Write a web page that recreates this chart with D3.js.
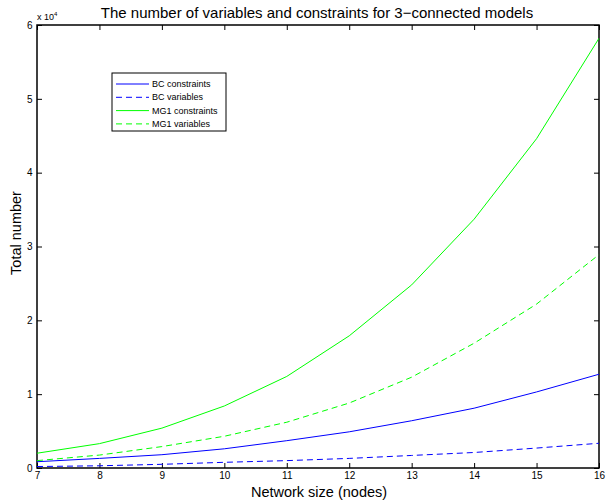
<html lang="en">
  <head>
    <meta charset="UTF-8" />
    <title>Variables and constraints for 3-connected models</title>
    <script src="https://d3js.org/d3.v7.min.js"></script>
  </head>
  <style>
    body { margin: 0; background: #fff; }
    svg { font-family: "Liberation Sans", Arial, sans-serif; }
    .tick text { font-size: 10px; }
  </style>
  <body>
    <svg id="chart" width="606" height="500"></svg>
    <script>
      // network sizes (nodes)
      var nodes = [7, 8, 9, 10, 11, 12, 13, 14, 15, 16];
      // totals
      var bcConstraints = [850, 1300, 1800, 2600, 3700, 4900, 6400, 8100, 10300, 12700];
      var bcVariables = [200, 300, 500, 770, 1000, 1300, 1700, 2100, 2700, 3350];
      var mg1Constraints = [2000, 3300, 5400, 8400, 12400, 17900, 24800, 33700, 44600, 58200];
      var mg1Variables = [1000, 1750, 2900, 4300, 6200, 8800, 12300, 16900, 22200, 28900];
      var seriesNames = ["BC constraints", "BC variables", "MG1 constraints", "MG1 variables"];
      var yTicks = [0, 1, 2, 3, 4, 5, 6];

      var series = [
        { name: seriesNames[0], values: bcConstraints, color: "#0000ff", dash: null },
        { name: seriesNames[1], values: bcVariables, color: "#0000ff", dash: "6,4" },
        { name: seriesNames[2], values: mg1Constraints, color: "#00ff00", dash: null },
        { name: seriesNames[3], values: mg1Variables, color: "#00ff00", dash: "6,4" }
      ];

      var margin = { left: 37, right: 7, top: 25, bottom: 32 };
      var width = 606 - margin.left - margin.right;
      var height = 500 - margin.top - margin.bottom;

      var svg = d3.select("#chart");
      var g = svg.append("g")
        .attr("transform", "translate(" + margin.left + "," + margin.top + ")");

      var x = d3.scaleLinear().domain([7, 16]).range([0, width]);
      var y = d3.scaleLinear().domain([0, 60000]).range([height, 0]);

      // axes: ticks point inward on all four sides
      g.append("g")
        .attr("transform", "translate(0," + height + ")")
        .call(d3.axisBottom(x).tickValues(nodes).tickSizeInner(-5).tickSizeOuter(0).tickPadding(4));
      g.append("g")
        .call(d3.axisTop(x).tickValues(nodes).tickSizeInner(-5).tickSizeOuter(0).tickFormat(""));
      g.append("g")
        .call(d3.axisLeft(y).tickValues(yTicks.map(function (d) { return d * 1e4; }))
          .tickSizeInner(-5).tickSizeOuter(0).tickPadding(4.5)
          .tickFormat(function (d) { return d / 1e4; }));
      g.append("g")
        .attr("transform", "translate(" + width + ",0)")
        .call(d3.axisRight(y).tickValues(yTicks.map(function (d) { return d * 1e4; }))
          .tickSizeInner(-5).tickSizeOuter(0).tickFormat(""));

      g.selectAll(".domain").remove();
      g.selectAll(".tick line").attr("stroke", "#000");
      g.selectAll(".tick text").attr("fill", "#000");

      g.append("rect")
        .attr("width", width)
        .attr("height", height)
        .attr("fill", "none")
        .attr("stroke", "#000")
        .attr("stroke-width", 1.5);

      var line = d3.line()
        .x(function (d, i) { return x(nodes[i]); })
        .y(function (d) { return y(d); });

      g.selectAll("path.series")
        .data(series)
        .enter()
        .append("path")
        .attr("class", "series")
        .attr("d", function (d) { return line(d.values); })
        .attr("fill", "none")
        .attr("stroke", function (d) { return d.color; })
        .attr("stroke-width", 1)
        .attr("stroke-dasharray", function (d) { return d.dash; });

      // exponent label
      var expo = svg.append("text")
        .attr("x", 37)
        .attr("y", 20)
        .style("font-size", "9px");
      expo.append("tspan").text("x 10");
      expo.append("tspan").attr("dy", -4).style("font-size", "6px").text("4");

      // title and axis labels
      svg.append("text")
        .attr("x", 317)
        .attr("y", 18)
        .attr("text-anchor", "middle")
        .style("font-size", "15px")
        .text("The number of variables and constraints for 3\u2212connected models");

      svg.append("text")
        .attr("x", 319)
        .attr("y", 496.5)
        .attr("text-anchor", "middle")
        .style("font-size", "14.5px")
        .text("Network size (nodes)");

      svg.append("text")
        .attr("transform", "translate(20.5,233) rotate(-90)")
        .attr("text-anchor", "middle")
        .style("font-size", "14.5px")
        .text("Total number");

      // legend
      var legend = svg.append("g").attr("transform", "translate(112,73)");
      legend.append("rect")
        .attr("width", 114)
        .attr("height", 58)
        .attr("fill", "#fff")
        .attr("stroke", "#000");

      var item = legend.selectAll("g.item")
        .data(series)
        .enter()
        .append("g")
        .attr("class", "item")
        .attr("transform", function (d, i) { return "translate(0," + (11 + i * 13.3) + ")"; });

      item.append("line")
        .attr("x1", 4)
        .attr("x2", 37)
        .attr("stroke", function (d) { return d.color; })
        .attr("stroke-dasharray", function (d) { return d.dash; });

      item.append("text")
        .attr("x", 40)
        .attr("dy", "0.35em")
        .style("font-size", "9px")
        .text(function (d) { return d.name; });
    </script>
  </body>
</html>
